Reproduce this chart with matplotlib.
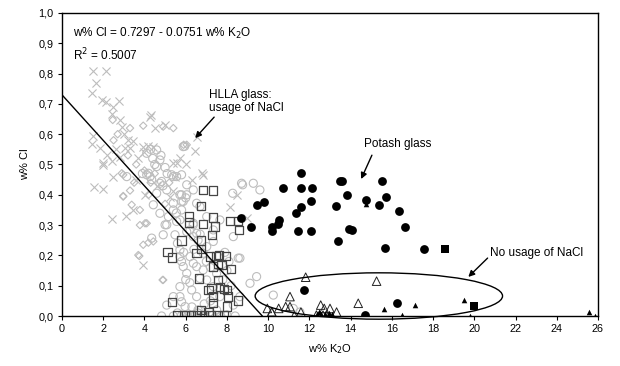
import matplotlib
matplotlib.use("Agg")
import matplotlib.pyplot as plt
from matplotlib.patches import Ellipse

plt.rcParams['font.family'] = ['Liberation Sans', 'DejaVu Sans']

# ---------------- data ----------------
# HLLA glass - grey open circles
hlla_circ_x = [3.14, 4.11, 4.35, 4.75, 5.40, 5.80, 5.80, 6.05, 5.80, 6.00,
               4.11, 4.59, 4.75, 4.59, 4.19, 4.27, 4.83, 4.90, 5.32, 5.56, 5.88, 5.95, 4.40, 4.50, 5.00, 5.10, 4.30, 4.80, 3.90,
               5.72, 5.88, 5.80, 5.08, 5.56, 6.21, 6.37, 6.53, 6.70, 6.60,
               4.35, 4.91, 5.00, 5.48, 5.60, 5.72, 5.72, 5.80, 5.88, 6.05, 5.72, 5.72, 5.80, 5.97, 6.29, 6.53, 6.69, 7.02,
               7.34, 7.66, 8.31, 8.63, 9.12, 9.44, 10.25, 8.76, 9.28, 9.60, 8.55, 8.31, 5.08, 5.40, 6.85, 7.02, 7.34, 6.69,
               7.02, 7.34, 7.66, 6.37, 6.05, 6.37, 6.53, 6.85, 6.37, 6.21, 6.40, 6.37, 6.05, 6.53, 5.40, 5.16, 5.55, 5.72,
               5.40, 5.08, 4.59, 4.43, 4.75, 8.63, 11.22, 11.54, 7.50, 7.80, 8.00, 8.20, 7.20, 6.90, 6.30, 6.60, 7.50,
               4.83, 5.40, 5.80, 6.10, 6.40, 6.90, 7.30, 7.70, 8.00, 8.40, 6.60, 5.60,
               7.00, 7.20, 7.90, 8.10, 6.00, 6.20, 5.90, 8.71, 8.28]
hlla_circ_y = [0.460, 0.466, 0.450, 0.438, 0.460, 0.466, 0.400, 0.400, 0.378, 0.390,
               0.537, 0.548, 0.515, 0.493, 0.471, 0.460, 0.444, 0.430, 0.466, 0.460, 0.559, 0.560, 0.520, 0.500, 0.490, 0.470, 0.550, 0.530, 0.470,
               0.400, 0.378, 0.350, 0.301, 0.312, 0.284, 0.301, 0.273, 0.270, 0.250,
               0.257, 0.268, 0.301, 0.268, 0.240, 0.218, 0.196, 0.180, 0.163, 0.141, 0.097, 0.064, 0.047, 0.031, 0.086, 0.064, 0.124, 0.119,
               0.097, 0.064, 0.036, 0.064, 0.108, 0.130, 0.069, 0.433, 0.438, 0.416, 0.191, 0.262, 0.036, 0.064, 0.207, 0.229, 0.246, 0.361,
               0.328, 0.284, 0.317, 0.306, 0.278, 0.262, 0.163, 0.152, 0.174, 0.196, 0.220, 0.416, 0.433, 0.372, 0.350, 0.328, 0.340, 0.317,
               0.372, 0.416, 0.405, 0.367, 0.339, 0.191, 0.025, 0.013, 0.140, 0.120, 0.150, 0.100, 0.050, 0.040, 0.030, 0.020, 0.020,
               0.000, 0.000, 0.002, 0.000, 0.003, 0.000, 0.002, 0.000, 0.003, 0.000, 0.010, 0.010,
               0.180, 0.160, 0.210, 0.180, 0.120, 0.110, 0.210, 0.438, 0.405]

# HLLA glass - grey crosses
hlla_cross_x = [1.49, 2.13, 1.65, 1.44, 1.92, 2.13, 2.49, 2.78, 2.41, 2.81, 2.90, 4.27, 4.30, 4.51, 5.00, 6.53,
                1.49, 1.44, 1.84, 2.00, 2.41, 2.81, 3.06, 3.46, 3.94, 4.19, 6.77, 6.45, 5.40, 5.72, 1.57, 2.44,
                3.10, 3.94, 8.15, 8.47, 3.46, 4.03, 5.40, 2.00, 2.45, 5.24, 5.56, 4.43, 3.30, 8.96, 6.85, 3.20,
                3.00, 2.60, 2.20, 3.70, 4.00, 6.00, 6.30, 2.00, 4.60, 3.60, 5.90, 6.10, 6.60, 7.20, 7.50, 5.48]
hlla_cross_y = [0.810, 0.810, 0.769, 0.736, 0.714, 0.705, 0.691, 0.709, 0.667, 0.647, 0.625, 0.658, 0.662, 0.620, 0.631, 0.592,
                0.593, 0.568, 0.554, 0.504, 0.510, 0.526, 0.554, 0.576, 0.559, 0.560, 0.471, 0.543, 0.504, 0.521, 0.427, 0.319,
                0.330, 0.168, 0.359, 0.400, 0.350, 0.400, 0.411, 0.499, 0.460, 0.394, 0.504, 0.559, 0.554, 0.325, 0.466, 0.580,
                0.600, 0.550, 0.530, 0.520, 0.540, 0.500, 0.450, 0.420, 0.430, 0.450, 0.000, 0.000, 0.000, 0.000, 0.000, 0.460]

# HLLA glass - grey diamonds
hlla_diam_x = [3.94, 4.91, 5.40, 2.46, 2.97, 3.30, 3.38, 3.78, 4.03, 4.11, 2.97, 2.97, 3.78, 3.75, 4.88, 3.70, 4.91,
               3.94, 4.19, 4.43, 2.90, 3.60, 4.00, 3.20, 4.50, 5.90, 6.05, 2.70, 3.30, 2.50, 4.30, 4.20, 3.50, 5.20, 5.00]
hlla_diam_y = [0.628, 0.625, 0.620, 0.647, 0.394, 0.414, 0.367, 0.350, 0.306, 0.306, 0.466, 0.396, 0.300, 0.198, 0.119, 0.201, 0.119,
               0.235, 0.242, 0.246, 0.471, 0.500, 0.480, 0.530, 0.470, 0.565, 0.565, 0.600, 0.620, 0.580, 0.440, 0.400, 0.440, 0.440, 0.370]

# open squares
sq_x = [6.85, 7.31, 6.74, 6.17, 7.34, 8.15, 6.17, 6.85, 7.42, 7.29, 8.60, 5.80, 6.73, 5.11, 5.32, 6.53, 6.74, 7.18,
        7.47, 7.63, 7.95, 7.31, 7.58, 7.74, 8.20, 6.63, 7.58, 7.10, 7.26, 7.66, 7.86, 7.99, 7.34, 8.04, 8.55, 5.32,
        7.34, 7.99, 6.74, 7.10, 5.60, 5.95, 6.25, 6.55, 6.90, 7.20, 7.55, 7.85, 8.55]
sq_y = [0.416, 0.414, 0.364, 0.328, 0.325, 0.314, 0.309, 0.303, 0.295, 0.268, 0.283, 0.249, 0.249, 0.212, 0.193, 0.207, 0.221, 0.196,
        0.198, 0.201, 0.199, 0.163, 0.172, 0.168, 0.155, 0.124, 0.119, 0.086, 0.091, 0.095, 0.089, 0.086, 0.064, 0.064, 0.051, 0.047,
        0.044, 0.031, 0.020, 0.014, 0.002, 0.002, 0.002, 0.002, 0.002, 0.002, 0.002, 0.002, 0.314]

# potash glass - filled circles
pot_x = [11.57, 13.48, 13.59, 15.53, 10.73, 11.61, 12.14, 13.81, 14.74, 15.70, 9.44, 9.80, 11.57, 12.08, 13.30, 15.39, 8.68, 11.35,
         10.54, 10.49, 16.34, 9.18, 10.17, 10.20, 11.45, 12.06, 13.90, 14.06, 16.63, 13.38, 15.68, 17.56, 11.75, 16.25, 14.68]
pot_y = [0.471, 0.446, 0.446, 0.446, 0.421, 0.421, 0.421, 0.400, 0.382, 0.393, 0.366, 0.376, 0.361, 0.378, 0.363, 0.367, 0.325, 0.339,
         0.317, 0.302, 0.346, 0.294, 0.295, 0.281, 0.280, 0.280, 0.286, 0.284, 0.293, 0.247, 0.224, 0.221, 0.086, 0.042, 0.004]

# filled squares
fsq_x = [18.56, 19.97]
fsq_y = [0.220, 0.033]

# open triangles
otri_x = [11.82, 15.26, 11.06, 14.37, 9.96, 10.18, 10.51, 10.85, 11.06, 11.27, 11.59, 12.55, 12.72, 13.00, 13.32,
          12.34, 12.50, 12.66, 12.83, 10.17]
otri_y = [0.128, 0.115, 0.064, 0.042, 0.025, 0.013, 0.025, 0.031, 0.031, 0.001, 0.013, 0.036, 0.025, 0.025, 0.013,
          0.003, 0.003, 0.003, 0.003, 0.014]

# small filled triangles
ftri_x = [15.63, 17.12, 16.51, 14.74, 19.51, 19.79, 25.54, 25.85, 12.35, 12.55, 12.75, 12.95, 13.10, 12.45]
ftri_y = [0.023, 0.037, 0.004, 0.369, 0.053, 0.001, 0.013, 0.001, 0.005, 0.008, 0.005, 0.010, 0.005, 0.012]

reg_a, reg_b = 0.7297, -0.0751
x_ticks = list(range(0, 27, 2))
y_ticks = [0.0, 0.1, 0.2, 0.3, 0.4, 0.5, 0.6, 0.7, 0.8, 0.9, 1.0]
y_tick_labels = [f"{v:.1f}".replace('.', ',') for v in y_ticks]

# ---------------- plot ----------------
fig = plt.figure(figsize=(6.2, 3.66), dpi=100)
ax = fig.add_axes([0.1, 0.1366, 0.8645, 0.828])

grey = '#bdbdbd'
ax.scatter(hlla_circ_x, hlla_circ_y, s=34, marker='o', facecolors='none', edgecolors=grey, linewidths=0.8, zorder=2)
ax.scatter(hlla_diam_x, hlla_diam_y, s=14, marker='D', facecolors='none', edgecolors=grey, linewidths=0.8, zorder=2)
ax.scatter(hlla_cross_x, hlla_cross_y, s=34, marker='x', color=grey, linewidths=0.8, zorder=2)
ax.scatter(sq_x, sq_y, s=36, marker='s', facecolors='none', edgecolors='#454545', linewidths=0.9, zorder=3)
ax.scatter(pot_x, pot_y, s=40, marker='o', color='black', linewidths=0, zorder=4)
ax.scatter(fsq_x, fsq_y, s=40, marker='s', color='black', linewidths=0, zorder=4)
ax.scatter(otri_x, otri_y, s=38, marker='^', facecolors='none', edgecolors='#222222', linewidths=0.7, zorder=3)
ax.scatter(ftri_x, ftri_y, s=16, marker='^', color='black', linewidths=0, zorder=4)

x_end = -reg_a / reg_b
ax.plot([0, x_end], [reg_a, reg_a + reg_b * x_end], color='black', lw=1.0, zorder=5)

ell = Ellipse((15.37, 0.066), width=12.0, height=0.153, fill=False, edgecolor='black', lw=1.0,
              clip_on=False, zorder=5)
ax.add_patch(ell)

ax.set_xlim(0, 26)
ax.set_ylim(0, 1.0)
ax.set_xticks(x_ticks)
ax.set_yticks(y_ticks)
ax.set_yticklabels(y_tick_labels)
ax.tick_params(direction='out', length=3, width=0.8, labelsize=7.8, pad=3)
for s in ax.spines.values():
    s.set_linewidth(1.0)

ax.set_xlabel('w% K$_2$O', fontsize=8, labelpad=6)
ax.set_ylabel('w% Cl', fontsize=8, labelpad=6)

ax.text(0.55, 0.934, 'w% Cl = 0.7297 - 0.0751 w% K$_2$O', fontsize=8.5, va='center', ha='left')
ax.text(0.55, 0.861, 'R$^2$ = 0.5007', fontsize=8.5, va='center', ha='left')

ax.annotate('HLLA glass:\nusage of NaCl', xy=(6.46, 0.587), xytext=(7.14, 0.708),
            fontsize=8.5, ha='left', va='center', linespacing=1.2,
            arrowprops=dict(arrowstyle='-|>', color='black', lw=1.0, mutation_scale=9,
                            shrinkA=0, shrinkB=0, relpos=(0.1, 0.0)))
ax.annotate('Potash glass', xy=(14.51, 0.452), xytext=(14.66, 0.568),
            fontsize=8.5, ha='left', va='center',
            arrowprops=dict(arrowstyle='-|>', color='black', lw=1.0, mutation_scale=9,
                            shrinkA=2, shrinkB=0, relpos=(0.15, 0.0)))
ax.annotate('No usage of NaCl', xy=(19.71, 0.129), xytext=(20.78, 0.208),
            fontsize=8.5, ha='left', va='center',
            arrowprops=dict(arrowstyle='-|>', color='black', lw=1.0, mutation_scale=9,
                            shrinkA=0, shrinkB=0, relpos=(0.0, 0.3)))

fig.savefig('out.png', dpi=100)
